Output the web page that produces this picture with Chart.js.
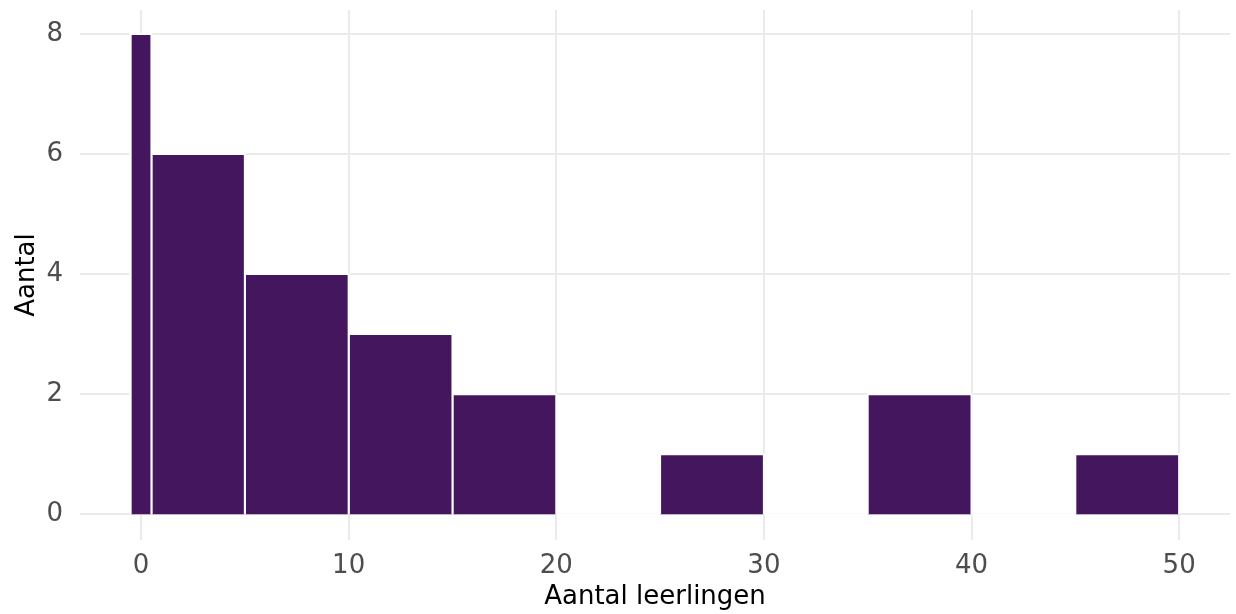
<!DOCTYPE html>
<html>
<head>
<meta charset="utf-8">
<script src="https://cdn.jsdelivr.net/npm/chart.js@4.4.1/dist/chart.umd.min.js"></script>
<style>
html,body{margin:0;padding:0;background:#fff}
#wrap{width:1236px;height:614px}
</style>
</head>
<body>
<div id="wrap"><canvas id="hist" width="1236" height="614"></canvas></div>
<script>
// bin edges and counts
let binStart=[-0.5,0.5,5,10,15,20,25,30,35,40,45]
let binEnd=[0.5,5,10,15,20,25,30,35,40,45,50]
let aantal=[8,6,4,3,2,0,1,0,2,0,1]
let xTicks=[0,10,20,30,40,50]
let yTicks=[0,2,4,6,8]

let kleur="#43165e"
let grijs="#ebebeb"
let fontNaam="'DejaVu Sans', sans-serif"

let datasets=[]
aantal.forEach((n,i)=>{
datasets.push({
data:[
{x:binStart[i],y:0},
{x:binStart[i],y:n},
{x:binEnd[i],y:n},
{x:binEnd[i],y:0}
],
fill:"origin",
backgroundColor:kleur,
borderColor:"#ffffff",
borderWidth:2,
pointRadius:0,
tension:0
})
})

new Chart(document.getElementById("hist"),{
type:"line",
data:{datasets:datasets},
options:{
responsive:false,
animation:false,
events:[],
layout:{padding:{top:10,right:6,left:0,bottom:0}},
plugins:{legend:{display:false},tooltip:{enabled:false}},
scales:{
x:{
type:"linear",
min:-2.94,
max:52.45,
afterBuildTicks:s=>{s.ticks=xTicks.map(v=>({value:v}))},
afterFit:s=>{s.height=74;s.paddingLeft=0;s.paddingRight=0},
grid:{color:grijs,lineWidth:2,drawTicks:false},
border:{display:false},
ticks:{color:"#4d4d4d",font:{family:fontNaam,size:26},padding:11},
title:{display:true,text:"Aantal leerlingen",color:"#000",font:{family:fontNaam,size:26},padding:{top:0,bottom:1}}
},
y:{
type:"linear",
min:-0.43,
max:8.4,
afterBuildTicks:s=>{s.ticks=yTicks.map(v=>({value:v}))},
afterFit:s=>{s.width=80;s.paddingTop=0;s.paddingBottom=0},
grid:{color:grijs,lineWidth:2,drawTicks:false},
border:{display:false},
ticks:{color:"#4d4d4d",font:{family:fontNaam,size:26},padding:17},
title:{display:true,text:"Aantal",color:"#000",font:{family:fontNaam,size:26},padding:{top:12,bottom:0}}
}
}
}
})
</script>
</body>
</html>
